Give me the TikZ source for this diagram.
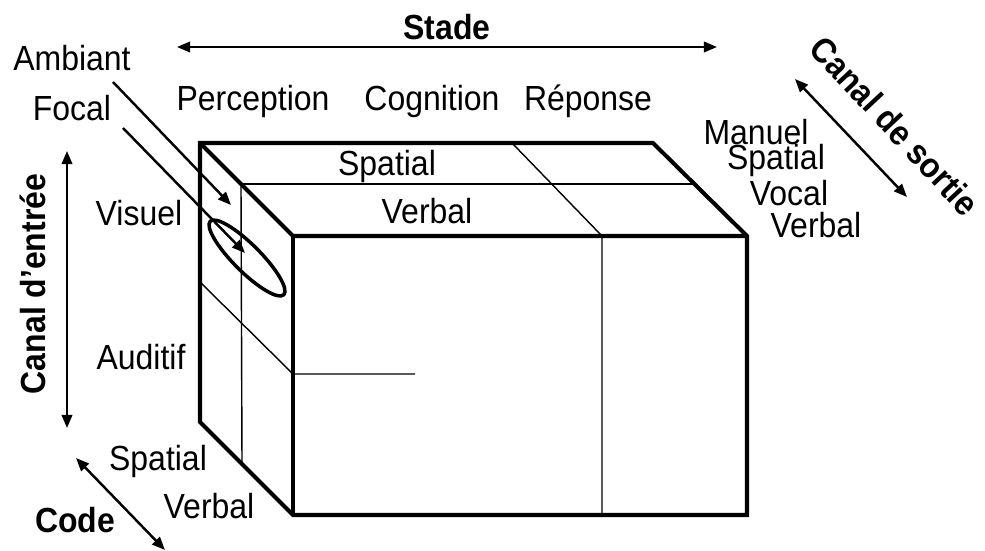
\documentclass[tikz,border=0pt]{standalone}
\usepackage{fontspec}
\setmainfont{Liberation Sans}
\usetikzlibrary{arrows.meta,shapes.geometric}

\begin{document}
\begin{tikzpicture}[x=0.02cm,y=-0.02cm]

      \tikzset{lbl/.style={font=\fontsize{18.2}{20}\selectfont, inner sep=0pt, yscale=1.09, transform shape},
               titre/.style={lbl, font=\fontsize{18.2}{20}\selectfont\bfseries},
               arete/.style={line width=2.3pt, line join=miter},
               trait/.style={line width=0.8pt},
               fleche/.style={line width=1.4pt, -{Triangle[length=7.5pt,width=6pt]}},
               dfleche/.style={line width=1.4pt, {Triangle[length=7.5pt,width=6pt]}-{Triangle[length=7.5pt,width=6pt]}}}
      \useasboundingbox (0,0) rectangle (985,551);
%% Corners of the box
      	\coordinate (b1) at (200,143);
      	\coordinate (b2) at (653,143);
      	\coordinate (f1) at (293,236);
      	\coordinate (f2) at (747,236);
      	\coordinate (f3) at (747,515);
      	\coordinate (f4) at (293,515);
      	\coordinate (b4) at (200,422);
%% Dividers
      	\coordinate (m1) at (241,184);
      	\coordinate (m2) at (693,184);
      	\coordinate (m3) at (242,464);
      	\coordinate (s1) at (512,143);
      	\coordinate (s2) at (602,236);
      	\coordinate (s3) at (602,515);
      	\coordinate (e1) at (200,282);
      	\coordinate (e2) at (293,374);
      	\coordinate (e3) at (415,374);
%% Arrow ends
      	\coordinate (a1) at (177,47);
      	\coordinate (a2) at (717,47);
      	\coordinate (a3) at (67,151);
      	\coordinate (a4) at (67,428);
      	\coordinate (a5) at (76,458);
      	\coordinate (a6) at (165,550);
      	\coordinate (a7) at (795,79);
      	\coordinate (a8) at (907,197);
      	\coordinate (a9) at (113,82);
      	\coordinate (a10) at (231,205);
      	\coordinate (a11) at (123,128);
      	\coordinate (a12) at (245,253);
%% Labels
      	\node[titre] (stade) at (447,27) {Stade};
      	\node[lbl] (perc) at (253,101) {Perception};
      	\node[lbl] (cogn) at (432,101) {Cognition};
      	\node[lbl] (repo) at (588,101) {Réponse};
      	\node[lbl] (amb) at (72,58) {Ambiant};
      	\node[lbl] (foc) at (72,108) {Focal};
      	\node[lbl] (vis) at (139,213) {Visuel};
      	\node[lbl] (aud) at (141,357) {Auditif};
      	\node[lbl] (spa1) at (158,461) {Spatial};
      	\node[lbl] (ver1) at (209,506) {Verbal};
      	\node[titre] (code) at (75,520) {Code};
      	\node[rotate=90, titre] (entree) at (33,284) {Canal d'entrée};
      	\node[lbl] (spa2) at (387,166) {Spatial};
      	\node[lbl] (ver2) at (427,211) {Verbal};
      	\node[lbl] (man) at (756,132) {Manuel};
      	\node[lbl] (spa3) at (776,160) {Spatial};
      	\node[lbl] (voc) at (789,193) {Vocal};
      	\node[lbl] (ver3) at (816,225) {Verbal};
      	\node[rotate=-47, titre] (sortie) at (895,126) {Canal de sortie};
      	\node[draw, ellipse, rotate=-45, line width=2pt, inner sep=0pt,
      	      minimum width=2.08cm, minimum height=0.54cm] (oeil) at (247,258) {};

%Edges
		\draw[arete] (b1) -- (b2) -- (f2) -- (f3) -- (f4) -- (b4) -- cycle;
		\draw[arete] (b1) -- (f1) -- (f2);
		\draw[arete] (f1) -- (f4);
		\draw[trait] (m1) -- (m2);
		\draw[trait] (m1) -- (m3);
		\draw[trait] (s1) -- (s2) -- (s3);
		\draw[trait] (e1) -- (e2) -- (e3);
		\draw[dfleche] (a1) -- (a2);
		\draw[dfleche] (a3) -- (a4);
		\draw[dfleche] (a5) -- (a6);
		\draw[dfleche] (a7) -- (a8);
		\draw[fleche] (a9) -- (a10);
		\draw[fleche] (a11) -- (a12);
	\end{tikzpicture}
\end{document}
